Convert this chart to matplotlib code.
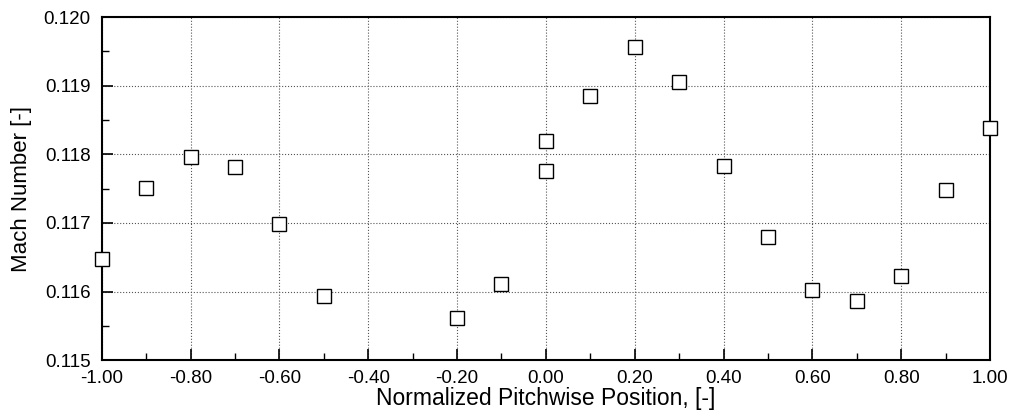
import matplotlib
matplotlib.use('Agg')
import matplotlib.pyplot as plt
from matplotlib.ticker import MultipleLocator, FormatStrFormatter

plt.rcParams['font.family'] = ['Liberation Sans', 'DejaVu Sans']

# pitchwise position and measured Mach number
position = [-1.0, -0.9, -0.8, -0.7, -0.6, -0.5, -0.2, -0.1, 0.0, 0.0,
            0.1, 0.2, 0.3, 0.4, 0.5, 0.6, 0.7, 0.8, 0.9, 1.0]
mach = [0.11647, 0.11751, 0.11796, 0.11782, 0.11698, 0.11594, 0.11561,
        0.11611, 0.11820, 0.11776, 0.11885, 0.11957, 0.11906, 0.11783,
        0.11679, 0.11603, 0.11587, 0.11623, 0.11748, 0.11838]

fig = plt.figure(figsize=(10.13, 4.12), dpi=100)
ax = fig.add_axes([0.1004, 0.1255, 0.8769, 0.8332])

ax.plot(position, mach, linestyle='none', marker='s', markersize=9.5,
        markerfacecolor='white', markeredgecolor='black',
        markeredgewidth=1.0, clip_on=False, zorder=3)

ax.set_xlim(-1.0, 1.0)
ax.set_ylim(0.115, 0.120)
ax.xaxis.set_major_locator(MultipleLocator(0.2))
ax.xaxis.set_minor_locator(MultipleLocator(0.1))
ax.yaxis.set_major_locator(MultipleLocator(0.001))
ax.yaxis.set_minor_locator(MultipleLocator(0.0005))
ax.xaxis.set_major_formatter(FormatStrFormatter('%.2f'))
ax.yaxis.set_major_formatter(FormatStrFormatter('%.3f'))

ax.tick_params(which='both', direction='in', top=False, right=False,
               labelsize=13.5)
ax.tick_params(axis='x', pad=7)
ax.tick_params(axis='y', pad=8)
ax.tick_params(which='major', length=8, width=1.2)
ax.tick_params(which='minor', length=5, width=1.0)

ax.grid(True, which='major', linestyle=':', color='#555555', linewidth=0.8)
for s in ax.spines.values():
    s.set_linewidth(1.5)

ax.set_xlabel('Normalized Pitchwise Position, [-]', fontsize=16.5, labelpad=0)
ax.set_ylabel('Mach Number [-]', fontsize=16, labelpad=8)

plt.savefig('out.png')
